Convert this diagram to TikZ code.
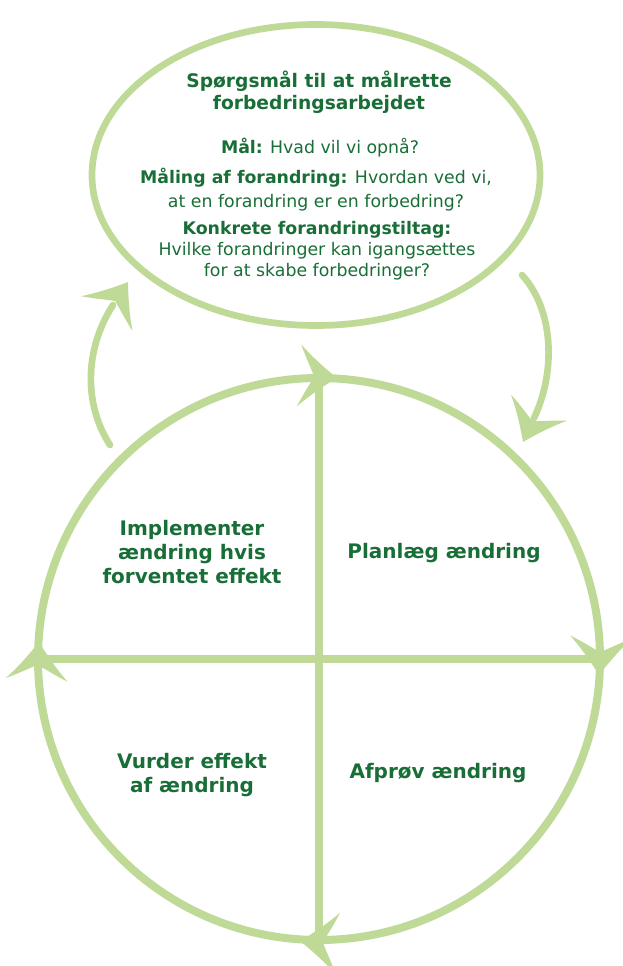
\documentclass[tikz,border=0pt]{standalone}
\usepackage{fontspec}
\setmainfont{DejaVu Sans}
\usetikzlibrary{shapes.geometric}
\definecolor{lg}{RGB}{190,218,150}
\definecolor{dg}{RGB}{25,110,55}
\tikzset{
  ring/.style={draw=lg, line width=6pt, inner sep=0pt, outer sep=0pt},
  bar/.style={draw=lg, line width=6pt},
  side/.style={draw=lg, line width=5pt, line cap=round},
  qlabel/.style={text=dg, font=\fontsize{15}{18}\selectfont\bfseries, align=center},
  ttl/.style={text=dg, font=\fontsize{14}{16.5}\selectfont\bfseries, align=center},
  body/.style={text=dg, font=\fontsize{13}{17}\selectfont, align=center},
}
\newcommand\arrowhd[2]{\fill[lg, shift={(#1)}, rotate=#2] (0,0) .. controls (-13,-9) and (-27,-20) .. (-38,-31) .. controls (-32,-17) and (-26,-7) .. (-23,0) .. controls (-26,7) and (-32,17) .. (-38,31) .. controls (-27,20) and (-13,9) .. (0,0) -- cycle;}
\begin{document}
\begin{tikzpicture}[x=0.75pt,y=-0.75pt]
\useasboundingbox (0,0) rectangle (623,966);
% main circle and question ellipse
\node[ring, circle, minimum size=421.5pt] (cyc) at (319,659) {};
\node[ring, ellipse, line width=5pt, minimum width=336pt, minimum height=225.75pt] (q) at (316,175) {};
\draw[bar] (cyc.north) -- (cyc.south);
\draw[bar] (cyc.west) -- (cyc.east);
% arrowheads on the circle (clockwise)
\arrowhd{337,378}{-4}
\arrowhd{599,675}{-93}
\arrowhd{300,941}{176}
\arrowhd{39,642}{86.5}
% side arrows between circle and ellipse
\coordinate (l0) at (110,445);
\coordinate (l1) at (113,305);
\draw[side] (l0) .. controls (84,405) and (84,350) .. (l1);
\arrowhd{128,282}{56}
\coordinate (r0) at (522,275);
\coordinate (r1) at (534,418);
\draw[side] (r0) .. controls (554,310) and (556,372) .. (r1);
\arrowhd{523,442}{245}
% ellipse texts
\node[ttl] (t1) at (319,92) {Spørgsmål til at målrette\\forbedringsarbejdet};
\node[body] (t2) at (320,148) {\textbf{Mål:} Hvad vil vi opnå?};
\node[body, font=\fontsize{13}{18}\selectfont] (t3) at (316,190) {\textbf{Måling af forandring:} Hvordan ved vi,\\at en forandring er en forbedring?};
\node[body, font=\fontsize{13}{15.75}\selectfont] (t4) at (317,251) {\textbf{Konkrete forandringstiltag:}\\Hvilke forandringer kan igangsættes\\for at skabe forbedringer?};
% quadrant labels
\node[qlabel] (q1) at (192,552) {Implementer\\ændring hvis\\forventet effekt};
\node[qlabel] (q2) at (444,553) {Planlæg ændring};
\node[qlabel] (q3) at (192,775) {Vurder effekt\\af ændring};
\node[qlabel] (q4) at (438,773) {Afprøv ændring};
\end{tikzpicture}
\end{document}
